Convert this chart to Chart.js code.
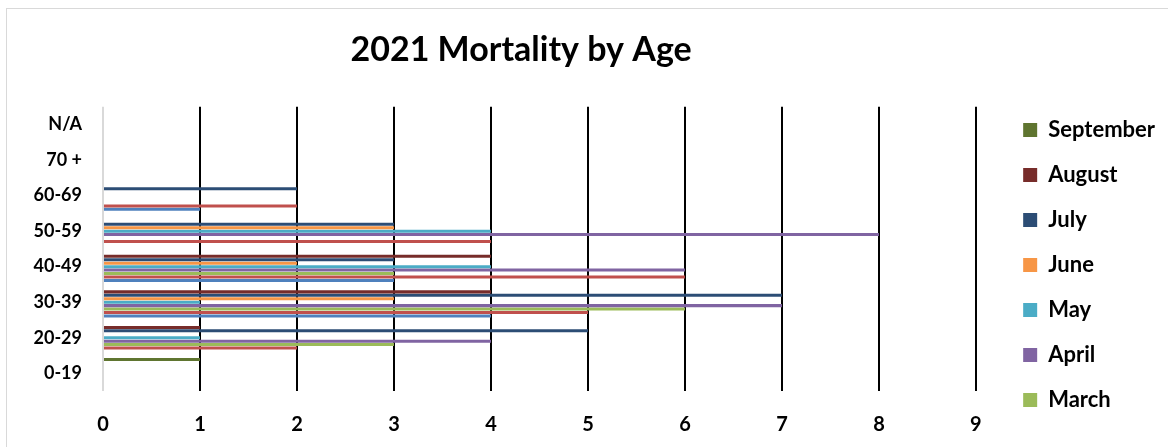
<!DOCTYPE html>
<html>
<head>
<meta charset="utf-8">
<script src="https://cdn.jsdelivr.net/npm/chart.js@4"></script>
<style>
  body { margin: 0; background: #fff; overflow: hidden; }
  #frame { position: absolute; left: 6px; top: 8px; width: 2000px; height: 2000px;
           border-left: 1px solid #d9d9d9; border-top: 1px solid #d9d9d9; }
  #clip { position: absolute; left: 0; top: 0; width: 1168px; height: 433px; overflow: hidden; }
</style>
</head>
<body>
<div id="frame"></div>
<div id="clip"><canvas id="chart" width="1168" height="620"></canvas></div>
<script>
var ageGroups = ['0-19', '20-29', '30-39', '40-49', '50-59', '60-69', '70 +', 'N/A'];

var september = [1, 0, 0, 0, 0, 0, 0, 0];
var august    = [0, 1, 4, 4, 0, 0, 0, 0];
var july      = [0, 5, 7, 3, 3, 2, 0, 0];
var june      = [0, 0, 3, 2, 3, 0, 0, 0];
var may       = [0, 1, 1, 4, 4, 0, 0, 0];
var april     = [0, 4, 7, 6, 8, 0, 0, 0];
var march     = [0, 3, 6, 3, 0, 0, 0, 0];
var february  = [0, 2, 5, 6, 4, 2, 0, 0];
var january   = [0, 0, 4, 3, 0, 1, 0, 0];

var months = ['September', 'August', 'July', 'June', 'May', 'April', 'March', 'February', 'January'];
var values = [september, august, july, june, may, april, march, february, january];
var colors = ['#5F7530', '#772C2A', '#2C4D75', '#F79646', '#4BACC6', '#8064A2', '#9BBB59', '#C0504D', '#4F81BD'];

Chart.defaults.font.family = 'Lato, "Open Sans", sans-serif';
Chart.defaults.color = '#000';

var datasets = [];
for (var i in months) {
	datasets.push({
		label: months[i],
		data: values[i],
		backgroundColor: colors[i],
		borderWidth: 0,
		categoryPercentage: 0.87,
		barPercentage: 0.88
	});
}

// title sits a little left of the plot centre, like the original
var titleShift = {
	id: 'titleShift',
	afterLayout: function (chart) {
		if (chart.titleBlock) chart.titleBlock.right -= 61;
	}
};

var ctx = document.getElementById('chart');
var mortalityChart = new Chart(ctx, {
	type: 'bar',
	data: {
		labels: ageGroups,
		datasets: datasets
	},
	plugins: [titleShift],
	options: {
		indexAxis: 'y',
		responsive: false,
		animation: false,
		layout: { padding: { top: 0, left: 0, right: 3, bottom: 0 } },
		plugins: {
			tooltip: { enabled: false },
			title: {
				display: true,
				text: '2021 Mortality by Age',
				fullSize: false,
				font: { size: 34, weight: 'bold' },
				padding: { top: 30, bottom: 36 }
			},
			legend: {
				position: 'right',
				align: 'center',
				labels: {
					boxWidth: 14,
					boxHeight: 14,
					padding: 23,
					font: { size: 22, weight: 'bold' }
				}
			}
		},
		scales: {
			x: {
				min: 0,
				max: 9.25,
				ticks: { stepSize: 1, includeBounds: false, padding: 22, font: { size: 20, weight: 'bold' } },
				grid: {
					drawTicks: false,
					lineWidth: 2,
					color: function (c) { return c.tick && c.tick.value === 0 ? '#d9d9d9' : '#000'; }
				},
				border: { display: false },
				afterFit: function (scale) { scale.height = 229; }
			},
			y: {
				reverse: true,
				ticks: { padding: 13, font: { size: 18, weight: 'bold' } },
				grid: { display: false },
				border: { display: false },
				afterFit: function (scale) { scale.width = 103; }
			}
		}
	}
});
</script>
</body>
</html>
